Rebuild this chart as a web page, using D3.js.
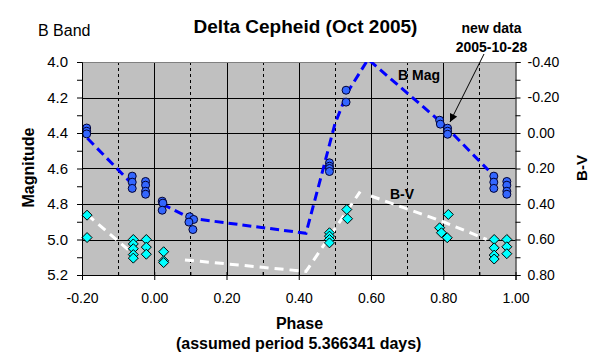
<!DOCTYPE html>
<html>
<head>
<meta charset="utf-8">
<script src="https://cdn.jsdelivr.net/npm/d3@7"></script>
<style>
  body { margin: 0; background: #fff; }
  text { font-family: Arial, "Liberation Sans", sans-serif; fill: #000; }
</style>
</head>
<body>
<div id="cepheid-graph"></div>
<script>
// Delta Cepheid B band light curve, phase folded

// B magnitude observations: [phase, mag]
var bMag = [
  [-0.187, 4.372], [-0.187, 4.390], [-0.187, 4.405],
  [-0.061, 4.643], [-0.061, 4.677], [-0.061, 4.712],
  [-0.024, 4.673], [-0.024, 4.694], [-0.024, 4.728], [-0.024, 4.745],
  [0.022, 4.784], [0.024, 4.795], [0.022, 4.835],
  [0.098, 4.872], [0.109, 4.887], [0.096, 4.902], [0.107, 4.944],
  [0.485, 4.568], [0.485, 4.587], [0.485, 4.600], [0.485, 4.617],
  [0.531, 4.159], [0.531, 4.226],
  [0.790, 4.328], [0.792, 4.350],
  [0.812, 4.373], [0.812, 4.390], [0.812, 4.407],
  [0.940, 4.643], [0.940, 4.677], [0.940, 4.712],
  [0.976, 4.673], [0.976, 4.694], [0.976, 4.728], [0.976, 4.745]
]

// B-V colour observations: [phase, B-V]
var bMinusV = [
  [-0.186, 0.463], [-0.186, 0.589],
  [-0.058, 0.600], [-0.058, 0.625], [-0.058, 0.652], [-0.058, 0.685], [-0.058, 0.705],
  [-0.022, 0.600], [-0.022, 0.643], [-0.022, 0.683],
  [0.026, 0.669], [0.026, 0.720], [0.026, 0.730],
  [0.485, 0.562], [0.485, 0.581], [0.485, 0.600], [0.485, 0.619],
  [0.533, 0.431], [0.535, 0.483],
  [0.790, 0.534], [0.795, 0.562], [0.811, 0.590], [0.814, 0.459],
  [0.941, 0.600], [0.941, 0.647], [0.941, 0.688], [0.941, 0.710],
  [0.976, 0.600], [0.976, 0.641], [0.976, 0.680]
]

// fitted curves, null = break in the line
var bMagFit = [
  [-0.185, 4.43], [-0.06, 4.69], null,
  [0.022, 4.80], [0.10, 4.88], [0.42, 4.965], [0.46, 4.66], [0.50, 4.35],
  [0.535, 4.17], [0.592, 3.985], [0.80, 4.35], [0.925, 4.61]
]
var bvFit = [
  [-0.186, 0.46], [-0.056, 0.685], null,
  [0.085, 0.715], [0.42, 0.78], [0.57, 0.33], null,
  [0.60, 0.355], [0.80, 0.50], [0.92, 0.60]
]

var phaseTicks = [-0.2, 0, 0.2, 0.4, 0.6, 0.8, 1.0]
var phaseMinor = [-0.1, 0.1, 0.3, 0.5, 0.7, 0.9]
var magTicks = [4.0, 4.2, 4.4, 4.6, 4.8, 5.0, 5.2]
var magMinor = [4.1, 4.3, 4.5, 4.7, 4.9, 5.1]
var bvTicks = [-0.4, -0.2, 0, 0.2, 0.4, 0.6, 0.8]
var bvMinor = [-0.3, -0.1, 0.1, 0.3, 0.5, 0.7]

var G = {}
G.w = 608
G.h = 361
G.left = 82
G.right = 515.5
G.top = 62
G.bottom = 275

var svg = d3.select("#cepheid-graph").append("svg")
  .attr("width", G.w)
  .attr("height", G.h)

var x = d3.scaleLinear().domain([-0.2, 1.0]).range([G.left, G.right])
var y = d3.scaleLinear().domain([4.0, 5.2]).range([G.top, G.bottom])
var yBV = d3.scaleLinear().domain([-0.4, 0.8]).range([G.top, G.bottom])

function crisp(v){ return Math.round(v) + 0.5 }
function fmt2(d){ return d.toFixed(2) }
function fmt1(d){ return d.toFixed(1) }

// plot area
svg.append("rect")
  .attr("x", G.left).attr("y", G.top)
  .attr("width", G.right - G.left).attr("height", G.bottom - G.top)
  .attr("fill", "#c0c0c0")

svg.append("clipPath").attr("id", "plotclip")
  .append("rect")
  .attr("x", G.left).attr("y", G.top)
  .attr("width", G.right - G.left).attr("height", G.bottom - G.top)

// gridlines
var grid = svg.append("g")
grid.selectAll("line.h").data(magTicks.slice(1, -1)).enter().append("line")
  .attr("x1", G.left).attr("x2", G.right)
  .attr("y1", d => crisp(y(d))).attr("y2", d => crisp(y(d)))
  .attr("stroke", "#000")
grid.selectAll("line.v").data(phaseTicks.slice(1, -1)).enter().append("line")
  .attr("x1", d => crisp(x(d))).attr("x2", d => crisp(x(d)))
  .attr("y1", G.top).attr("y2", G.bottom)
  .attr("stroke", "#000")
grid.selectAll("line.vd").data(phaseMinor).enter().append("line")
  .attr("x1", d => crisp(x(d))).attr("x2", d => crisp(x(d)))
  .attr("y1", G.top).attr("y2", G.bottom)
  .attr("stroke", "#000")
  .attr("stroke-dasharray", "3,3")
svg.append("line")
  .attr("x1", G.left).attr("x2", G.right)
  .attr("y1", G.top + 0.5).attr("y2", G.top + 0.5)
  .attr("stroke", "#808080")

// fit lines
var line = d3.line()
  .defined(d => d !== null)
  .x(d => x(d[0]))

var curves = svg.append("g").attr("clip-path", "url(#plotclip)")
curves.append("path")
  .attr("d", line.y(d => y(d[1]))(bMagFit))
  .attr("fill", "none")
  .attr("stroke", "#0000ff")
  .attr("stroke-width", 3)
  .attr("stroke-dasharray", "9,5")
curves.append("path")
  .attr("d", line.y(d => yBV(d[1]))(bvFit))
  .attr("fill", "none")
  .attr("stroke", "#ffffff")
  .attr("stroke-width", 3)
  .attr("stroke-dasharray", "9,6")

// markers
svg.append("g").selectAll("path").data(bMinusV).enter().append("path")
  .attr("d", "M0,-5L5,0L0,5L-5,0Z")
  .attr("transform", d => "translate(" + x(d[0]) + "," + yBV(d[1]) + ")")
  .attr("fill", "#00ffff")
  .attr("stroke", "#000")
  .attr("stroke-width", 1)

svg.append("g").selectAll("circle").data(bMag).enter().append("circle")
  .attr("cx", d => x(d[0]))
  .attr("cy", d => y(d[1]))
  .attr("r", 4)
  .attr("fill", "#3366ff")
  .attr("stroke", "#000033")
  .attr("stroke-width", 1)

// axes
function styleAxis(g, size){
  g.select(".domain").attr("stroke", "#000")
  g.selectAll(".tick line").attr("stroke", "#000")
  g.selectAll("text").attr("font-size", size).attr("font-family", "Arial, 'Liberation Sans', sans-serif").attr("fill", "#000")
}

var leftAxis = svg.append("g").attr("transform", "translate(" + G.left + ",0)")
  .call(d3.axisLeft(y).tickValues(magTicks).tickFormat(fmt1).tickSizeOuter(0).tickSize(5).tickPadding(9))
styleAxis(leftAxis, 15)
svg.append("g").attr("transform", "translate(" + G.left + ",0)")
  .call(d3.axisLeft(y).tickValues(magMinor).tickFormat("").tickSize(5))
  .call(g => g.select(".domain").remove())

var rightAxis = svg.append("g").attr("transform", "translate(" + G.right + ",0)")
  .call(d3.axisRight(yBV).tickValues(bvTicks).tickFormat(fmt2).tickSizeOuter(0).tickSize(5).tickPadding(7))
styleAxis(rightAxis, 14)
svg.append("g").attr("transform", "translate(" + G.right + ",0)")
  .call(d3.axisRight(yBV).tickValues(bvMinor).tickFormat("").tickSize(5))
  .call(g => g.select(".domain").remove())

var bottomAxis = svg.append("g").attr("transform", "translate(0," + G.bottom + ")")
  .call(d3.axisBottom(x).tickValues(phaseTicks).tickFormat(fmt2).tickSizeOuter(0).tickSize(5).tickPadding(13))
styleAxis(bottomAxis, 14)
svg.append("g").attr("transform", "translate(0," + G.bottom + ")")
  .call(d3.axisTop(x).tickValues(phaseTicks.concat(phaseMinor)).tickFormat("").tickSize(3))
  .call(g => g.select(".domain").remove())

// texts
function AddText(txt, tx, ty, size, bold, anchor, rotate){
  var t = svg.append("text")
    .attr("font-size", size)
    .attr("font-weight", bold ? "bold" : "normal")
    .attr("text-anchor", anchor)
    .text(txt)
  if (rotate) t.attr("transform", "translate(" + tx + "," + ty + ") rotate(-90)")
  else t.attr("x", tx).attr("y", ty)
}

AddText("B Band", 38, 36, 16, false, "start")
AddText("Delta Cepheid (Oct 2005)", 305.5, 33, 19, true, "middle")
AddText("new data", 491.5, 33, 14, true, "middle")
AddText("2005-10-28", 491.5, 52, 14, true, "middle")
AddText("B Mag", 398, 80, 14, true, "start")
AddText("B-V", 390, 199, 14, true, "start")
AddText("Magnitude", 34, 167.5, 16, true, "middle", true)
AddText("B-V", 587, 168, 15, true, "middle", true)
AddText("Phase", 299.5, 329, 16, true, "middle")
AddText("(assumed period 5.366341 days)", 298.7, 348.5, 16, true, "middle")

// arrow pointing at the new data
svg.append("defs").append("marker")
  .attr("id", "arrowhead")
  .attr("viewBox", "0 0 10 10")
  .attr("refX", 10).attr("refY", 5)
  .attr("markerWidth", 9).attr("markerHeight", 8)
  .attr("markerUnits", "userSpaceOnUse")
  .attr("orient", "auto")
  .append("path").attr("d", "M0,0L10,5L0,10Z").attr("fill", "#000")

svg.append("line")
  .attr("x1", 484).attr("y1", 54)
  .attr("x2", 450).attr("y2", 122)
  .attr("stroke", "#000")
  .attr("stroke-width", 1)
  .attr("marker-end", "url(#arrowhead)")
</script>
</body>
</html>
